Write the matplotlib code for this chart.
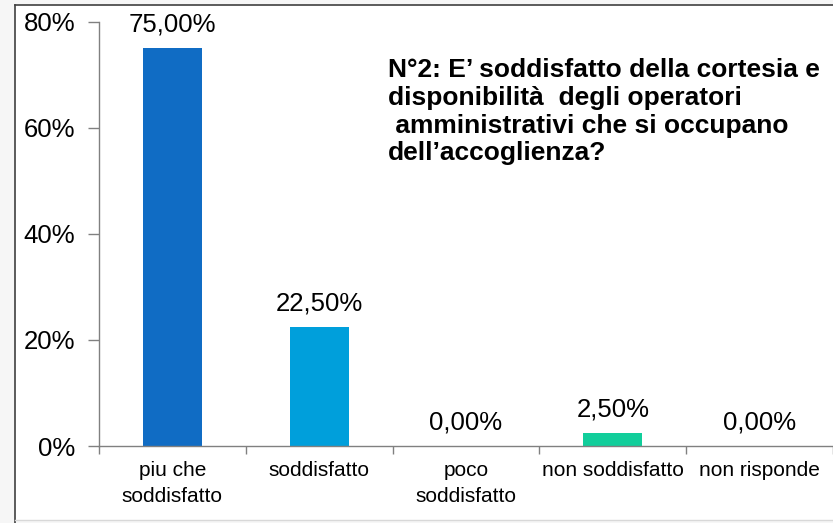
import numpy as np
import matplotlib
matplotlib.use("Agg")
import matplotlib.pyplot as plt
from matplotlib.patches import Rectangle
from matplotlib.lines import Line2D

plt.rcParams['font.family'] = ['Liberation Sans', 'DejaVu Sans']

# --------------------------- data ---------------------------#
categories = ["piu che\nsoddisfatto", "soddisfatto", "poco\nsoddisfatto",
              "non soddisfatto", "non risponde"]
values = [75.0, 22.5, 0.0, 2.5, 0.0]
colors = ["#106CC4", "#009FDB", "#1F77B4", "#11CE9B", "#1F77B4"]
yticks = [0, 20, 40, 60, 80]
title = ("N°2: E’ soddisfatto della cortesia e\n"
         "disponibilità  degli operatori\n"
         " amministrativi che si occupano\n"
         "dell’accoglienza?")

W, H = 833, 523
fig = plt.figure(figsize=(W / 100, H / 100), dpi=100)

# frame around the picture
fig.patches.append(Rectangle((0, 0), 1, 1, transform=fig.transFigure,
                             facecolor="#f6f6f6", edgecolor="none", zorder=-10))
fig.patches.append(Rectangle((15 / W, 3 / H), 1, (H - 8) / H, transform=fig.transFigure,
                             facecolor="white", edgecolor="none", zorder=-9))
fig.lines.append(Line2D([15 / W, 15 / W], [0, 1 - 5 / H], transform=fig.transFigure,
                        color="#404040", lw=1.2))
fig.lines.append(Line2D([15 / W, 1], [1 - 5 / H, 1 - 5 / H], transform=fig.transFigure,
                        color="#404040", lw=1.2))
fig.lines.append(Line2D([15 / W, 1], [3 / H, 3 / H], transform=fig.transFigure,
                        color="#d8d8d8", lw=1.0))

ax = fig.add_axes([99 / W, 77 / H, 1 - 99 / W, 424.5 / H])
ax.set_facecolor("none")

x = np.arange(len(categories))
ax.bar(x, values, width=0.4, color=colors, zorder=2)

for xi, v in zip(x, values):
    ax.annotate(f"{v:.2f}%".replace(".", ","), (xi, v), xytext=(0, 8),
                textcoords="offset points", ha="center", va="bottom", fontsize=18.5)

ax.set_xlim(-0.5, len(categories) - 0.5)
ax.set_ylim(0, 80)
ax.set_yticks(yticks)
ax.set_yticklabels([f"{t}%" for t in yticks], fontsize=18.5)

# category labels centered, ticks at boundaries
ax.set_xticks(np.arange(len(categories) + 1) - 0.5)
ax.set_xticklabels([])
ax.set_xticks(x, minor=True)
ax.set_xticklabels(categories, minor=True, fontsize=15, linespacing=1.45)
ax.tick_params(axis="x", which="minor", length=0, pad=11)
ax.tick_params(axis="x", which="major", length=6, width=1, color="#808080", direction="out")
ax.tick_params(axis="y", length=8, width=1, color="#808080", pad=9)

for s in ["top", "right"]:
    ax.spines[s].set_visible(False)
for s in ["left", "bottom"]:
    ax.spines[s].set_color("#808080")
    ax.spines[s].set_linewidth(1)

fig.text(388 / W, 1 - 58 / H, title, fontsize=19, fontweight="bold",
         ha="left", va="top", linespacing=1.2)

fig.savefig("out.png", dpi=100)
